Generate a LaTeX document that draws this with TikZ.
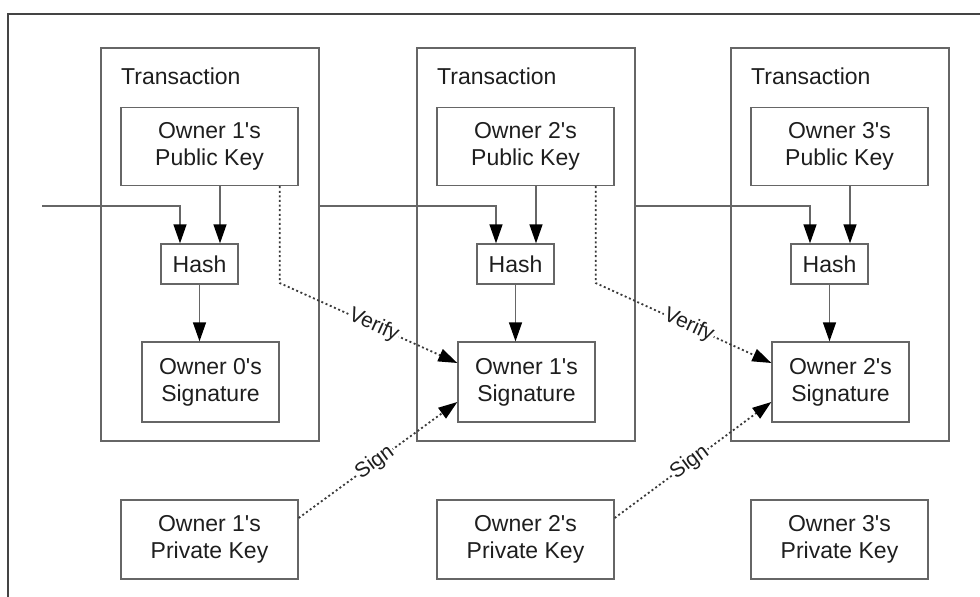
\documentclass[tikz,border=0pt]{standalone}
\usepackage{fontspec}
\newfontfamily\lsans{Liberation Sans}
\usetikzlibrary{arrows.meta,calc}
\definecolor{boxline}{HTML}{666666}
\definecolor{dotline}{HTML}{3A3A3A}
\definecolor{frameline}{HTML}{444444}
\definecolor{txt}{HTML}{1E1E1E}
\begin{document}
\begin{tikzpicture}[x=1pt,y=-1pt,
  every node/.style={font=\lsans\fontsize{23}{27}\selectfont, text=txt},
  box/.style={draw=boxline, line width=1.3pt, rectangle, align=center, inner sep=0pt},
  trbox/.style={box, minimum width=218, minimum height=393},
  pkbox/.style={box, minimum width=177, minimum height=78},
  hashbox/.style={box, minimum width=77, minimum height=40},
  sigbox/.style={box, minimum width=137, minimum height=80},
  conn/.style={draw=boxline, line width=1.3pt},
  arr/.style={conn, -{Triangle[length=19pt,width=13pt,fill=black,color=black]}},
  dotarr/.style={draw=dotline, line width=1.8pt, dash pattern=on 2pt off 2.6pt, -{Triangle[length=19pt,width=13pt,fill=black,color=black]}},
  lbl/.style={font=\lsans\fontsize{21}{24}\selectfont, fill=white, inner sep=1pt, sloped}
]
\useasboundingbox (0,0) rectangle (980,597);
% outer frame (cut at right and bottom)
\draw[frameline, line width=2.2pt] (8,597) -- (8,14) -- (980,14);

\foreach \i/\dx in {0/0,1/316,2/630}{
  \node[trbox] (tr\i) at (210+\dx,244.5) {};
  \node[anchor=west, inner sep=0pt] (trl\i) at (121+\dx,76) {Transaction};
  \node[hashbox] (h\i) at (199.5+\dx,264) {Hash};
  \node[sigbox] (sig\i) at (210.5+\dx,382) {};
  \node[pkbox] (pk\i) at (209.5+\dx,146.5) {};
  \node[pkbox, minimum height=79] (pr\i) at (209.5+\dx,539.5) {};
}
\node[align=center] (pkt0) at (pk0) {Owner 1's\\Public Key};
\node[align=center] (pkt1) at (pk1) {Owner 2's\\Public Key};
\node[align=center] (pkt2) at (pk2) {Owner 3's\\Public Key};
\node[align=center] (sigt0) at (sig0) {Owner 0's\\Signature};
\node[align=center] (sigt1) at (sig1) {Owner 1's\\Signature};
\node[align=center] (sigt2) at (sig2) {Owner 2's\\Signature};
\node[align=center] (prt0) at (pr0) {Owner 1's\\Private Key};
\node[align=center] (prt1) at (pr1) {Owner 2's\\Private Key};
\node[align=center] (prt2) at (pr2) {Owner 3's\\Private Key};

% previous-hash lines
\coordinate (s0) at (42,206);
\coordinate (s1) at (tr0.east |- 0,206);
\coordinate (s2) at (tr1.east |- 0,206);
\foreach \i in {0,1,2}{
  \draw[arr] (s\i) -- ([xshift=-19.5pt]h\i.north |- s\i) -- ([xshift=-19.5pt]h\i.north);
  \draw[arr] ([xshift=20.5pt]h\i.north |- pk\i.south) -- ([xshift=20.5pt]h\i.north);
  \draw[arr] (h\i.south) -- (h\i.south |- sig\i.north);
}

% verify and sign
\foreach \i/\j in {0/1,1/2}{
  \coordinate (v\i) at ([xshift=-19pt]pk\i.south east |- 0,283);
  \draw[dotarr] ([xshift=-19pt]pk\i.south east) -- (v\i) -- node[lbl, pos=0.53] {Verify} ([yshift=19pt]sig\j.west);
  \draw[dotarr] ([yshift=21.5pt]pr\i.east) -- node[lbl, pos=0.48] {Sign} ([yshift=-20pt]sig\j.west);
}
\end{tikzpicture}
\end{document}
